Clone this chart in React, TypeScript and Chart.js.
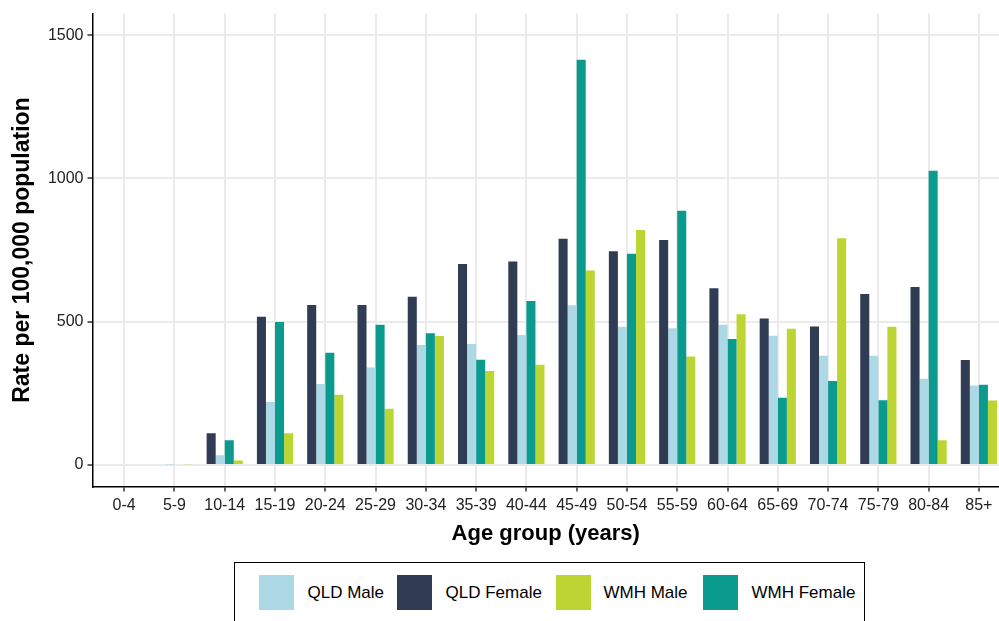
import React, { useEffect, useRef } from 'react';
import { Chart, registerables } from 'chart.js';

Chart.register(...registerables);

const categories = ['0-4', '5-9', '10-14', '15-19', '20-24', '25-29', '30-34', '35-39', '40-44', '45-49', '50-54', '55-59', '60-64', '65-69', '70-74', '75-79', '80-84', '85+'];
const qldFemale = [0, 0, 111, 517, 558, 558, 587, 701, 710, 789, 746, 785, 617, 511, 483, 597, 621, 366];
const qldMale = [0, 2, 34, 220, 283, 340, 419, 422, 454, 557, 482, 477, 489, 451, 381, 381, 301, 277];
const wmhFemale = [0, 0, 86, 499, 392, 489, 460, 367, 572, 1414, 737, 887, 440, 235, 293, 226, 1027, 280];
const wmhMale = [0, 3, 16, 111, 245, 196, 450, 328, 350, 679, 820, 379, 526, 475, 791, 482, 86, 225];
const yTicks = [0, 500, 1000, 1500];

const legendItems = [
  { label: 'QLD Male', color: '#add8e6' },
  { label: 'QLD Female', color: '#2f3c54' },
  { label: 'WMH Male', color: '#bdd532' },
  { label: 'WMH Female', color: '#0b9a8e' },
];

const FONT = '"Liberation Sans", Arial, sans-serif';

export default function App() {
  const ref = useRef<HTMLCanvasElement>(null);

  useEffect(() => {
    document.body.style.margin = '0';
    const toPts = (arr: number[]) => arr.map((v, i) => ({ x: i, y: v }));
    const grid = { color: '#ebebeb', lineWidth: 2, tickLength: 5, tickColor: '#333', tickWidth: 1.5, offset: false, drawTicks: true };
    const chart = new Chart(ref.current as HTMLCanvasElement, {
      type: 'bar',
      data: {
        datasets: [
          { label: 'QLD Female', data: toPts(qldFemale), backgroundColor: '#2f3c54' },
          { label: 'QLD Male', data: toPts(qldMale), backgroundColor: '#add8e6' },
          { label: 'WMH Female', data: toPts(wmhFemale), backgroundColor: '#0b9a8e' },
          { label: 'WMH Male', data: toPts(wmhMale), backgroundColor: '#bdd532' },
        ] as any,
      },
      options: {
        animation: false,
        responsive: false,
        maintainAspectRatio: false,
        layout: { padding: { top: 12, left: 0, right: 0, bottom: 0 } },
        plugins: { legend: { display: false }, tooltip: { enabled: false } },
        datasets: { bar: { categoryPercentage: 0.72, barPercentage: 1, borderWidth: 0 } },
        scales: {
          x: {
            type: 'linear',
            min: -0.63,
            max: 17.4,
            offset: false,
            afterBuildTicks: (s: any) => { s.ticks = categories.map((_, i) => ({ value: i })); },
            afterFit: (s: any) => { s.height = 73.5; },
            ticks: {
              autoSkip: false, maxRotation: 0, minRotation: 0, padding: 4, color: '#222',
              font: { family: FONT, size: 16 },
              callback: (v: any) => categories[v] ?? '',
            },
            grid: grid as any,
            border: { display: true, color: '#000', width: 1.5 },
            title: {
              display: true, text: 'Age group (years)', color: '#000',
              font: { family: FONT, size: 22, weight: 'bold' },
              padding: { top: 0, bottom: 13 },
            },
          },
          y: {
            min: -75,
            max: 1575,
            afterBuildTicks: (s: any) => { s.ticks = yTicks.map((v) => ({ value: v })); },
            afterFit: (s: any) => { s.width = 92.5; },
            ticks: {
              padding: 4, color: '#222',
              font: { family: FONT, size: 16 },
              callback: (v: any) => String(v),
            },
            grid: grid as any,
            border: { display: true, color: '#000', width: 1.5 },
            title: {
              display: true, text: 'Rate per 100,000 population', color: '#000',
              font: { family: FONT, size: 23, weight: 'bold' },
              padding: { top: 9, bottom: 0 },
            },
          },
        } as any,
      },
    });
    return () => chart.destroy();
  }, []);

  const swatchX = [258.5, 397, 555.5, 702.5];
  const textX = [307.5, 445.5, 603.5, 751.5];

  return (
    <div style={{ position: 'relative', width: 999, height: 621, overflow: 'hidden', background: '#fff' }}>
      <canvas ref={ref} width={999} height={560} style={{ position: 'absolute', left: 0, top: 0, width: 999, height: 560 }} />
      <div style={{ position: 'absolute', left: 234, top: 562, width: 631, height: 80, border: '1px solid #000', boxSizing: 'border-box' }} />
      {legendItems.map((it, i) => (
        <React.Fragment key={it.label}>
          <div style={{ position: 'absolute', left: swatchX[i], top: 575, width: 35, height: 35, background: it.color }} />
          <div style={{ position: 'absolute', left: textX[i], top: 575, height: 35, lineHeight: '35px', fontFamily: FONT, fontSize: 17, color: '#000', whiteSpace: 'nowrap' }}>{it.label}</div>
        </React.Fragment>
      ))}
    </div>
  );
}
